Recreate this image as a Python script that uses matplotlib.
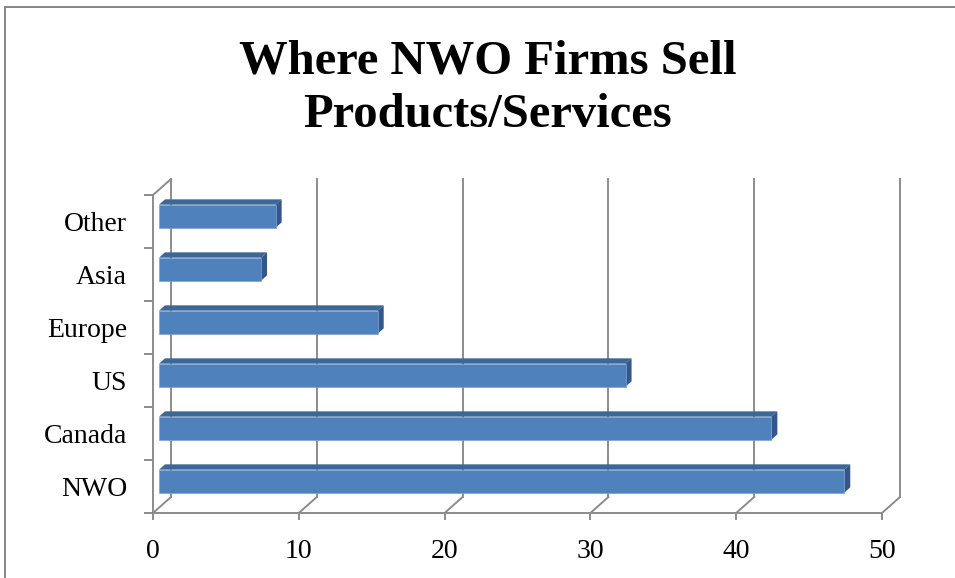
import matplotlib
matplotlib.use("Agg")
import matplotlib.pyplot as plt
from matplotlib.patches import Polygon
from matplotlib.lines import Line2D
import numpy as np

# Survey data
categories = ["NWO", "Canada", "US", "Europe", "Asia", "Other"]
values = [47, 42, 32, 15, 7, 8]
xticks = [0, 10, 20, 30, 40, 50]
title_lines = ["Where NWO Firms Sell", "Products/Services"]

W, H = 955, 578
fig = plt.figure(figsize=(W / 100, H / 100), dpi=100)

# Plot area in pixels (front plane of the 3-D box)
x0_px, x1_px = 153, 882
y_bot_px, y_top_px = 513, 195
ax = fig.add_axes([x0_px / W, (H - y_bot_px) / H,
                   (x1_px - x0_px) / W, (y_bot_px - y_top_px) / H])
xmax = xticks[-1]
ncat = len(categories)
ax.set_xlim(0, xmax)
ax.set_ylim(0, ncat)

# Depth of the 3-D box expressed in data units
px_per_x = (x1_px - x0_px) / xmax
px_per_y = (y_bot_px - y_top_px) / ncat
dx = 18 / px_per_x
dy = 16 / px_per_y

grid_c = "#8c8c8c"
grid_lw = 1.4

# Back-wall gridlines and floor diagonals
for k in xticks:
    ax.add_line(Line2D([k + dx, k + dx], [dy, ncat + dy], color=grid_c,
                       lw=grid_lw, clip_on=False, zorder=1))
    ax.add_line(Line2D([k, k + dx], [0, dy], color=grid_c,
                       lw=grid_lw, clip_on=False, zorder=1))
# Top edge of the left wall
ax.add_line(Line2D([0, dx], [ncat, ncat + dy], color=grid_c,
                   lw=grid_lw, clip_on=False, zorder=1))

# 3-D bars: front face, top face and end face
front_c = "#4f81bd"
top_c = "#3d6796"
side_c = "#33578a"
f1, f2 = 1 / 3, 2 / 3
bar_h = 0.434
centers = np.arange(ncat) + 0.5 + f1 * dy
left = f1 * dx
ddx = (f2 - f1) * dx
ddy = (f2 - f1) * dy
ax.barh(centers, values, left=left, height=bar_h, color=front_c,
        edgecolor="#7ea1cf", linewidth=0.5, zorder=3)
for yc, v in zip(centers, values):
    top = yc + bar_h / 2
    bot = yc - bar_h / 2
    right = left + v
    ax.add_patch(Polygon([(left, top), (left + ddx, top + ddy),
                          (right + ddx, top + ddy), (right, top)],
                         closed=True, facecolor=top_c, edgecolor="none",
                         zorder=2, clip_on=False))
    ax.add_patch(Polygon([(right, bot), (right + ddx, bot + ddy),
                          (right + ddx, top + ddy), (right, top)],
                         closed=True, facecolor=side_c, edgecolor="none",
                         zorder=2, clip_on=False))

# Axes styling
for s in ("top", "right"):
    ax.spines[s].set_visible(False)
for s in ("left", "bottom"):
    ax.spines[s].set_color(grid_c)
    ax.spines[s].set_linewidth(grid_lw)

font = "Liberation Serif"
ax.set_xticks(xticks)
ax.set_xticklabels([str(t) for t in xticks], fontfamily=font, fontsize=20)
ax.tick_params(axis="x", direction="out", length=5, width=grid_lw,
               color=grid_c, pad=14)
ax.set_yticks(np.arange(ncat + 1))
ax.set_yticklabels([])
ax.tick_params(axis="y", which="major", direction="out", length=6.5,
               width=grid_lw, color=grid_c)
ax.set_yticks(np.arange(ncat) + 0.5, minor=True)
ax.set_yticklabels(categories, minor=True, fontfamily=font, fontsize=20)
ax.tick_params(axis="y", which="minor", length=0, pad=18.7)

# Title, two lines
for line, base_px in zip(title_lines, (73, 127)):
    fig.text(488 / W, 1 - base_px / H, line, ha="center", va="baseline",
             fontfamily=font, fontweight="bold", fontsize=35)

# Chart frame
fig.add_artist(Line2D([5 / W, 5 / W], [0, 1 - 7 / H], color="#868686",
                      lw=1.4, transform=fig.transFigure))
fig.add_artist(Line2D([5 / W, 1], [1 - 7 / H, 1 - 7 / H], color="#868686",
                      lw=1.4, transform=fig.transFigure))

fig.savefig("out.png", dpi=100)
